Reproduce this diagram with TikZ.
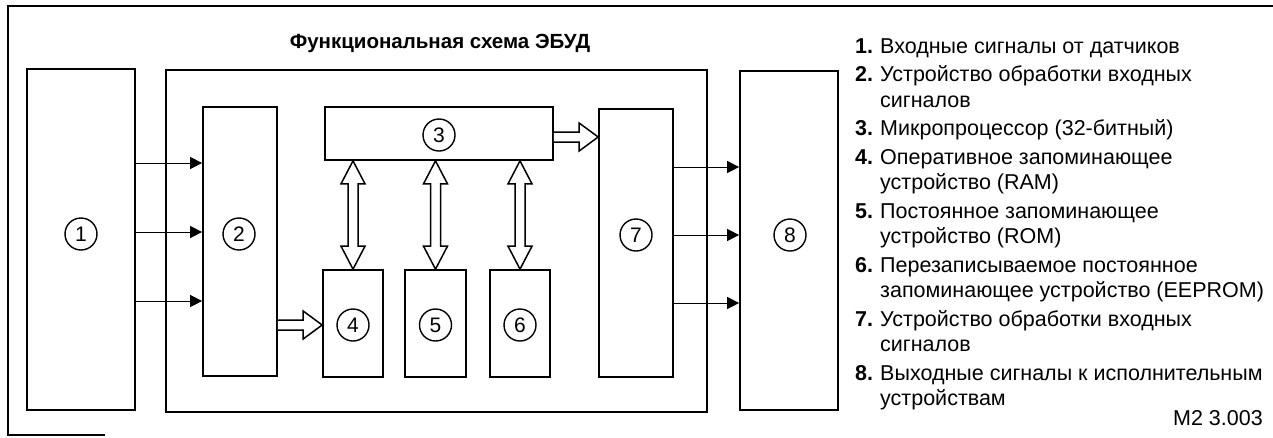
\documentclass[tikz,border=0pt]{standalone}
\usepackage{fontspec}
\setmainfont{Liberation Sans}
\usetikzlibrary{arrows.meta,calc}
\newcommand\fatR[2]{%
  \draw[fat] let \p1=(#1), \p2=(#2) in
    (\x1,\y1+5) -- (\x2-19,\y1+5) -- (\x2-19,\y1+14) -- (\x2,\y1)
    -- (\x2-19,\y1-14) -- (\x2-19,\y1-5) -- (\x1,\y1-5);}
\newcommand\fatUD[2]{%
  \draw[fat] let \p1=(#1), \p2=(#2) in
    (\x1,\y1) -- (\x1+12,\y1-23) -- (\x1+5,\y1-23) -- (\x1+5,\y2+23)
    -- (\x1+12,\y2+23) -- (\x1,\y2) -- (\x1-12,\y2+23) -- (\x1-5,\y2+23)
    -- (\x1-5,\y1-23) -- (\x1-12,\y1-23) -- cycle;}
\begin{document}
\begin{tikzpicture}[x=1pt,y=-1pt,
  box/.style={draw,line width=1.7pt,inner sep=0pt},
  num/.style={draw,circle,line width=1.4pt,minimum size=32pt,inner sep=0pt,
    font=\fontsize{21}{21}\selectfont},
  sig/.style={line width=1pt,-{Triangle[length=12pt,width=12pt]}},
  fat/.style={line width=1.5pt,fill=white,line join=miter},
  frame/.style={line width=1.3pt},
  legnum/.style={anchor=base west,inner sep=0pt,font=\fontsize{21.5}{24}\selectfont\bfseries},
  legtxt/.style={anchor=base west,inner sep=0pt,font=\fontsize{21.5}{24}\selectfont},
  title/.style={inner sep=0pt,font=\fontsize{20.5}{22}\selectfont\bfseries}]
\useasboundingbox (0,0) rectangle (1273,437);
% outer frame
\draw[frame] (1273,6) -- (8,6) -- (8,435) -- (105,435);
% title
\node[title] (title) at (440,43) {Функциональная схема ЭБУД};
% boxes
\node[box,minimum width=108pt,minimum height=341pt] (b1) at (81,239.5) {};
\node[box,minimum width=541pt,minimum height=342pt] (ecu) at (436.5,241) {};
\node[box,minimum width=74pt,minimum height=269pt] (b2) at (240,241.5) {};
\node[box,minimum width=228pt,minimum height=53pt] (b3) at (439,133.5) {};
\node[box,minimum width=60pt,minimum height=107pt] (b4) at (353,323.5) {};
\node[box,minimum width=61pt,minimum height=107pt] (b5) at (435.5,323.5) {};
\node[box,minimum width=60pt,minimum height=107pt] (b6) at (520,323.5) {};
\node[box,minimum width=74pt,minimum height=268pt] (b7) at (636,243) {};
\node[box,minimum width=98pt,minimum height=339pt] (b8) at (789,240.5) {};
% numbered circles
\node[num] (c1) at (81,234) {1};
\node[num] (c2) at (239,234) {2};
\node[num] (c3) at (439,135) {3};
\node[num] (c4) at (353,325) {4};
\node[num] (c5) at (435.5,325) {5};
\node[num] (c6) at (520,325) {6};
\node[num] (c7) at (636,235) {7};
\node[num] (c8) at (790,235) {8};
% thin signal arrows
\coordinate (ya) at (0,163);
\coordinate (yb) at (0,232);
\coordinate (yc) at (0,301);
\coordinate (yd) at (0,167);
\coordinate (ye) at (0,235);
\coordinate (yf) at (0,303);
\draw[sig] (b1.east |- ya) -- (b2.west |- ya);
\draw[sig] (b1.east |- yb) -- (b2.west |- yb);
\draw[sig] (b1.east |- yc) -- (b2.west |- yc);
\draw[sig] (b7.east |- yd) -- (b8.west |- yd);
\draw[sig] (b7.east |- ye) -- (b8.west |- ye);
\draw[sig] (b7.east |- yf) -- (b8.west |- yf);
% fat arrows
\coordinate (yg) at (0,325);
\coordinate (yh) at (0,137);
\fatR{b2.east |- yg}{b4.west |- yg}
\fatR{b3.east |- yh}{b7.west |- yh}
\fatUD{b3.south -| b4.north}{b4.north}
\fatUD{b3.south -| b5.north}{b5.north}
\fatUD{b3.south -| b6.north}{b6.north}
% legend
\node[legnum] (n1) at (855,53) {1.};
\node[legtxt] (l1) at (880,53) {Входные сигналы от датчиков};
\node[legnum] (n2) at (855,81.5) {2.};
\node[legtxt] (l2a) at (880,81.5) {Устройство обработки входных};
\node[legtxt] (l2b) at (880,107) {сигналов};
\node[legnum] (n3) at (855,135.5) {3.};
\node[legtxt] (l3) at (880,135.5) {Микропроцессор (32-битный)};
\node[legnum] (n4) at (855,164) {4.};
\node[legtxt] (l4a) at (880,164) {Оперативное запоминающее};
\node[legtxt] (l4b) at (880,189.5) {устройство (RAM)};
\node[legnum] (n5) at (855,218) {5.};
\node[legtxt] (l5a) at (880,218) {Постоянное запоминающее};
\node[legtxt] (l5b) at (880,243.5) {устройство (ROM)};
\node[legnum] (n6) at (855,272) {6.};
\node[legtxt] (l6a) at (880,272) {Перезаписываемое постоянное};
\node[legtxt] (l6b) at (880,297.5) {запоминающее устройство (EEPROM)};
\node[legnum] (n7) at (855,326) {7.};
\node[legtxt] (l7a) at (880,326) {Устройство обработки входных};
\node[legtxt] (l7b) at (880,351.5) {сигналов};
\node[legnum] (n8) at (855,380) {8.};
\node[legtxt] (l8a) at (880,380) {Выходные сигналы к исполнительным};
\node[legtxt] (l8b) at (880,405.5) {устройствам};
\node[legtxt,anchor=base east] (code) at (1263,425) {M2 3.003};
\end{tikzpicture}
\end{document}
